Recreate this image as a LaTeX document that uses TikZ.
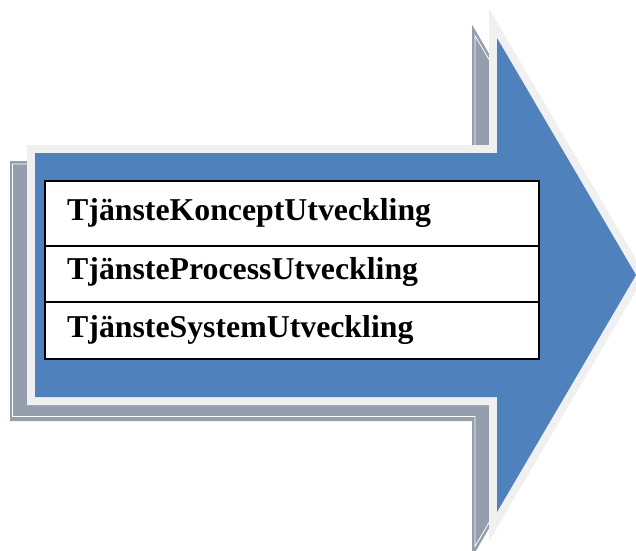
\documentclass[tikz,border=0pt]{standalone}
\usepackage{fontspec}
\setmainfont{Liberation Serif}
\definecolor{arrowblue}{HTML}{4F81BD}
\definecolor{rimgray}{HTML}{F0F0F0}
\definecolor{shadowgray}{HTML}{949EAD}

\begin{document}
\begin{tikzpicture}[
  x=1pt, y=-1pt,
  shadow/.style={fill=shadowgray},
  shadowline/.style={draw=white, line width=0.8pt},
  rim/.style={fill=rimgray},
  body/.style={fill=arrowblue},
  grid/.style={draw=black, line width=1.5pt},
  rowtext/.style={anchor=base west, inner sep=0pt, font=\bfseries\fontsize{31.8}{36}\selectfont}
]
  \useasboundingbox (0,0) rectangle (636,550);
  \clip (0,0) rectangle (636,550);

  \fill[shadow] (10,161) -- (472,161) -- (472,24.6) -- (628,291) -- (472,557.4) -- (472,421) -- (10,421) -- cycle;
  \draw[shadowline] (12.5,164) -- (475,164) -- (475,35.6) -- (624.5,291) -- (475,546.4) -- (475,416.5) -- (12.5,416.5) -- cycle;

  \fill[rim] (27,145) -- (489,145) -- (489,8.6) -- (645.2,275) -- (489,541.4) -- (489,405) -- (27,405) -- cycle;
  \fill[body] (35,153) -- (497,153) -- (497,38) -- (636,275) -- (497,512) -- (497,397) -- (35,397) -- cycle;

  \filldraw[grid, fill=white] (45,181) rectangle (539,359);
  \draw[grid] (45,246) -- (539,246);
  \draw[grid] (45,302) -- (539,302);

  \node[rowtext] (concept) at (67,220) {TjänsteKonceptUtveckling};
  \node[rowtext] (process) at (67,279) {TjänsteProcessUtveckling};
  \node[rowtext] (system) at (67,337) {TjänsteSystemUtveckling};
\end{tikzpicture}
\end{document}
